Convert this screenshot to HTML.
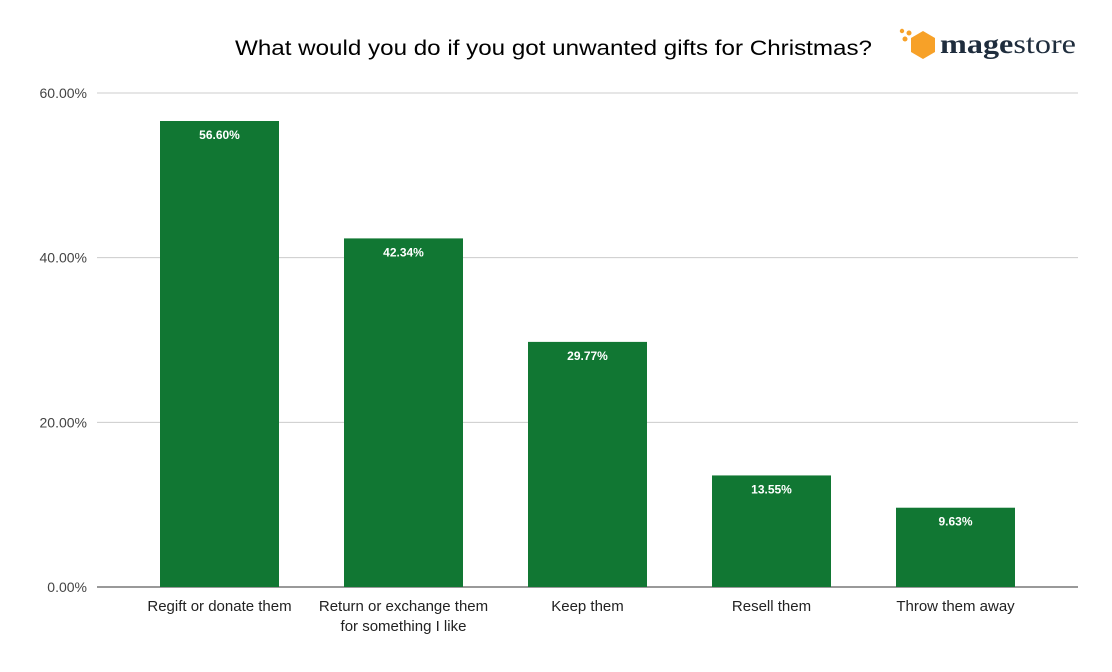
<!DOCTYPE html>
<html><head><meta charset="utf-8">
<style>
body{margin:0;background:#fff;width:1112px;height:667px;overflow:hidden;font-family:"Liberation Sans",Arial,sans-serif}
</style></head>
<body>
<svg id="chart" width="1112" height="667" xmlns="http://www.w3.org/2000/svg">
<text x="235" y="55" font-size="21" textLength="637" lengthAdjust="spacingAndGlyphs" fill="#000" font-family="Liberation Sans, sans-serif">What would you do if you got unwanted gifts for Christmas?</text>
<g>
<polygon points="923,31 935,38 935,52 923,59 911,52 911,38" fill="#f7a128"/>
<circle cx="902" cy="31" r="2.2" fill="#f7a128"/>
<circle cx="909" cy="33" r="2.5" fill="#f7a128"/>
<circle cx="905" cy="39" r="2.5" fill="#f7a128"/>
<text x="940" y="53" font-size="27" fill="#1f2d3d" textLength="136" lengthAdjust="spacingAndGlyphs" font-family="Liberation Serif, serif"><tspan font-weight="bold">mage</tspan><tspan>store</tspan></text>
</g>
<g id="grid"></g><g id="bars"></g><g id="labels"></g>
</svg>
<script>
const categories=["Regift or donate them","Return or exchange them|for something I like","Keep them","Resell them","Throw them away"];
const values=[56.60,42.34,29.77,13.55,9.63];
const ticks=[0,20,40,60];
const NS="http://www.w3.org/2000/svg";
const y0=587,y60=93,gl=97,gr=1078,bandStart=127.5,band=184,bw=119;
const y=v=>y0-(v/60)*(y0-y60);
const x=i=>bandStart+band*i+band/2;
function mk(t,a,p){const e=document.createElementNS(NS,t);for(const k in a)e.setAttribute(k,a[k]);p.appendChild(e);return e;}
const grid=document.getElementById('grid'),bars=document.getElementById('bars'),labels=document.getElementById('labels');
ticks.forEach(t=>{
 const l=mk('line',{x1:gl,x2:gr,y1:y(t),y2:y(t),stroke:t===0?'#333':'#ccc','stroke-width':1},grid);
 
 
 const tx=mk('text',{x:87,y:y(t)+5,'text-anchor':'end','font-size':14,fill:'#444'},grid);
 tx.textContent=t.toFixed(2)+'%';
 
 
});
values.forEach((v,i)=>{
 const r=mk('rect',{x:x(i)-bw/2,y:y(v),width:bw,height:y0-y(v),fill:'#117733'},bars);
 
 
 const t=mk('text',{x:x(i),y:y(v)+18,'text-anchor':'middle','font-size':12,'font-weight':'bold',fill:'#fff'},labels);
 t.textContent=v.toFixed(2)+'%';
 
 
 categories[i].split('|').forEach((s,j)=>{
  const c=mk('text',{x:x(i),y:611+j*20,'text-anchor':'middle','font-size':15,fill:'#222'},labels);
  c.textContent=s;
  
  
 });
});
</script>
</body></html>
